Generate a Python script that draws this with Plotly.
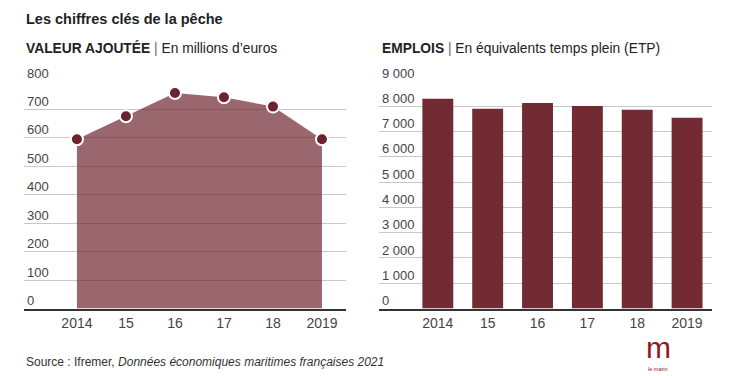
import plotly.graph_objects as go

years = ["2014", "15", "16", "17", "18", "2019"]
valeur_ajoutee = [595, 676, 758, 743, 710, 595]
emplois = [8300, 7900, 8130, 8010, 7860, 7550]
va_ticks = [0, 100, 200, 300, 400, 500, 600, 700, 800]
va_ticktext = ["0", "100", "200", "300", "400", "500", "600", "700", "800"]
emp_ticks = [0, 1000, 2000, 3000, 4000, 5000, 6000, 7000, 8000, 9000]
emp_ticktext = ["0", "1 000", "2 000", "3 000", "4 000", "5 000", "6 000", "7 000", "8 000", "9 000"]

# page body has an 8px margin: figure is offset by 8px inside the window
OFF = 8
W, H = 734 - OFF, 376 - OFF
FONT = "Liberation Sans, Arial, sans-serif"
DARK = "#6b2330"
BAR = "#722a33"
AREA = "rgba(112,38,48,0.70)"


def px(x):
    return (x - OFF) / W


def py(y):
    return 1 - (y - OFF) / H


fig = go.Figure()

fig.add_trace(go.Scatter(
    x=years, y=valeur_ajoutee, xaxis="x", yaxis="y",
    mode="lines", fill="tozeroy", fillcolor=AREA,
    line=dict(width=0, color=AREA), hoverinfo="skip", showlegend=False,
))
fig.add_trace(go.Scatter(
    x=years, y=valeur_ajoutee, xaxis="x", yaxis="y",
    mode="markers",
    marker=dict(size=12, color=DARK, line=dict(color="white", width=2)),
    showlegend=False,
))
fig.add_trace(go.Bar(
    x=years, y=emplois, xaxis="x2", yaxis="y2",
    marker=dict(color=BAR, line=dict(width=0)), width=0.62, showlegend=False,
))

y0 = py(308.5)
y1 = py(81)

common_x = dict(
    type="category", showgrid=False, zeroline=False,
    showline=True, linecolor="#333", linewidth=2,
    ticks="", tickfont=dict(family=FONT, size=14, color="#444"),
    ticklabelstandoff=1, fixedrange=True, automargin=False,
)
common_y = dict(
    showgrid=True, gridcolor="#c8c8c8", gridwidth=1, zeroline=False,
    showline=False, ticks="", ticklabelposition="inside",
    ticklabeloverflow="allow",
    tickfont=dict(family=FONT, size=13, color="#444"),
    ticklabelshift=-8, ticklabelstandoff=0, fixedrange=True, automargin=False,
)

fig.update_layout(
    width=W, height=H,
    margin=dict(l=0, r=0, t=0, b=0, autoexpand=False),
    paper_bgcolor="white", plot_bgcolor="white",
    xaxis=dict(common_x, domain=[px(24), px(346)], range=[-1.08, 5.49], anchor="y"),
    yaxis=dict(common_y, domain=[y0, y1], range=[0, 800], tickvals=va_ticks,
               ticktext=va_ticktext, anchor="x"),
    xaxis2=dict(common_x, domain=[px(379), px(712)], range=[-1.18, 5.5], anchor="y2"),
    yaxis2=dict(common_y, domain=[y0, y1], range=[0, 9000], tickvals=emp_ticks,
                ticktext=emp_ticktext, anchor="x2"),
    showlegend=False,
)

annotations = [
    dict(text="<b>Les chiffres clés de la pêche</b>", x=px(24), y=py(19),
         font=dict(family=FONT, size=14.5, color="#222")),
    dict(text="<b>VALEUR AJOUTÉE</b> <span style='color:#666'>|</span> En millions d’euros",
         x=px(24), y=py(48), font=dict(family=FONT, size=13.8, color="#222")),
    dict(text="<b>EMPLOIS</b> <span style='color:#666'>|</span> En équivalents temps plein (ETP)",
         x=px(380), y=py(48), font=dict(family=FONT, size=13.8, color="#222")),
    dict(text="Source : Ifremer, <i>Données économiques maritimes françaises 2021</i>",
         x=px(24), y=py(362), font=dict(family=FONT, size=12, color="#333")),
    dict(text="m", x=px(658), y=py(347), xanchor="center",
         font=dict(family=FONT, size=30, color="#8b1a22")),
    dict(text="le marin", x=px(658), y=py(369), xanchor="center",
         font=dict(family=FONT, size=5.5, color="#8b1a22")),
]
for a in annotations:
    a.setdefault("xanchor", "left")
    a.update(xref="paper", yref="paper", yanchor="middle", showarrow=False)
fig.update_layout(annotations=annotations)

fig.write_html("out.html")
